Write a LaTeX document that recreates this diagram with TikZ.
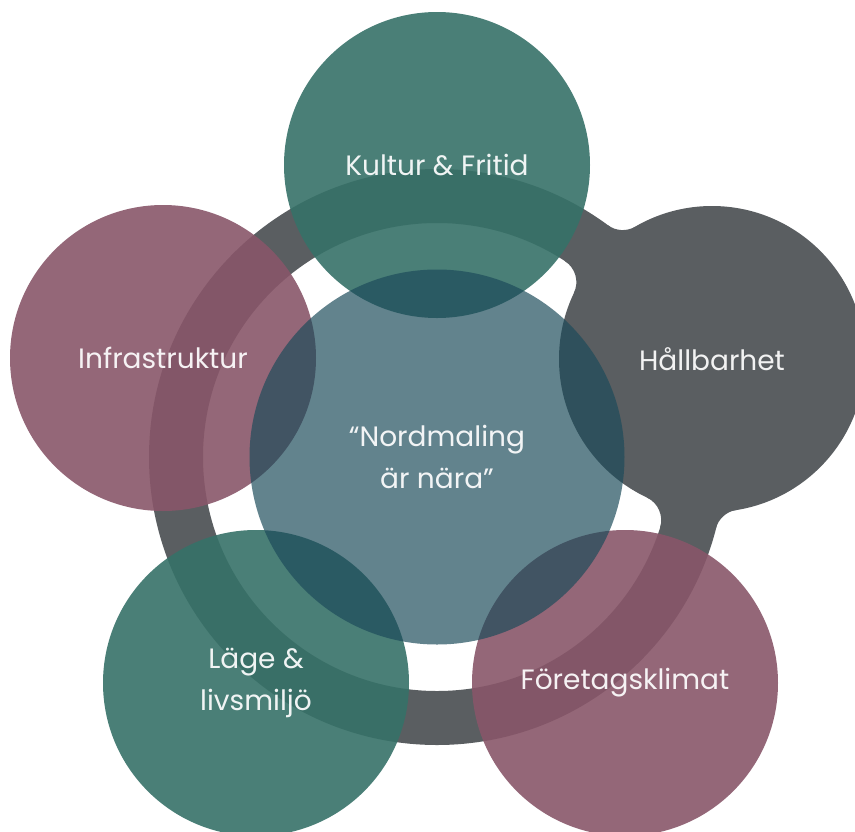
\documentclass[tikz,border=0pt]{standalone}
\usepackage{fontspec}
\setmainfont{Poppins}

\definecolor{ringgrey}{RGB}{90,94,97}
\definecolor{tealc}{RGB}{54,113,104}
\definecolor{plumc}{RGB}{136,86,105}
\definecolor{coreblue}{RGB}{28,75,90}

\tikzset{x=1pt,y=1pt}
\tikzset{
  theme/.style={circle,minimum size=306pt,inner sep=0pt,text=white,
    text opacity=.92,align=center,font=\fontsize{28}{42}\selectfont},
  green theme/.style={theme,fill=tealc,fill opacity=.9},
  plum theme/.style={theme,fill=plumc,fill opacity=.9},
  core/.style={theme,minimum size=375pt,fill=coreblue,fill opacity=.69}
}

\begin{document}
\begin{tikzpicture}
  \useasboundingbox (0,0) rectangle (855,-831);
  \coordinate (hub) at (437,-457);
  % grey ring, with the grey theme grown onto it
  \fill[ringgrey,even odd rule] (hub) circle (288) (hub) circle (234);
  \node[theme,fill=ringgrey] (hallbar) at (712,-359) {Hållbarhet};
  \fill[ringgrey] (635.2,-226.7) arc[start angle=-59.9,end angle=-126.4,radius=25]
    -- (591.9,-246.9) -- (651.8,-255.2) -- cycle;
  \fill[ringgrey] (736.2,-510.0) arc[start angle=99.0,end angle=165.6,radius=25]
    -- (689.8,-521.8) -- (731.0,-477.4) -- cycle;
  \fill[ringgrey] (573.9,-292.9) arc[start angle=-25.6,end angle=56.8,radius=25]
    -- (579.9,-238.6) -- (603.7,-307.2) -- cycle;
  \fill[ringgrey] (646.8,-497.5) arc[start angle=64.9,end angle=-17.5,radius=25]
    -- (685.7,-535.7) -- (660.9,-467.6) -- cycle;
  % the other themes
  \node[green theme] (kultur)  at (437,-165) {Kultur \& Fritid};
  \node[plum theme]  (infra)   at (163,-358) {Infrastruktur};
  \node[green theme] (lage)    at (256,-683) {Läge \&\\livsmiljö};
  \node[plum theme]  (foretag) at (625,-683) {Företagsklimat};
  % centre
  \node[core] (core) at (hub) {“Nordmaling\\är nära”};
\end{tikzpicture}
\end{document}
